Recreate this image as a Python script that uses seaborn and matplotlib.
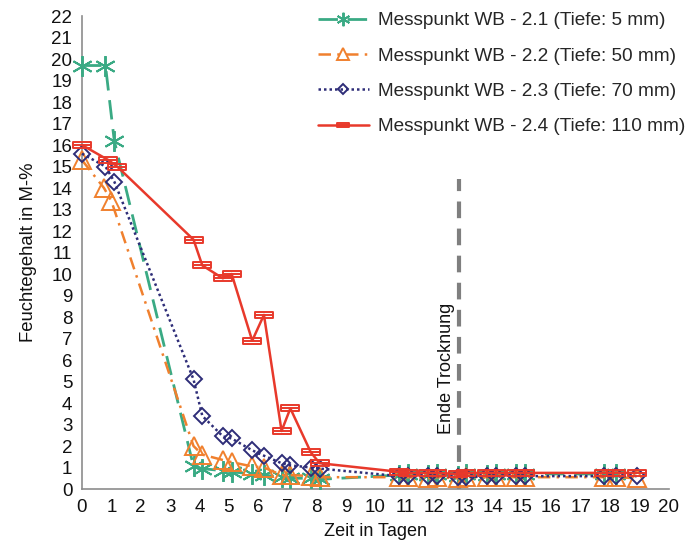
import numpy as np
import pandas as pd
import matplotlib
matplotlib.use("Agg")
import matplotlib.pyplot as plt
from matplotlib.path import Path
import seaborn as sns

sns.set_theme(style="white")
plt.rcParams["font.family"] = ["Liberation Sans", "DejaVu Sans"]

# Messzeitpunkte (Tage) und Feuchtegehalt (M-%) je Messpunkt
t_late = [10.8, 11.1, 11.8, 12.1, 12.8, 13.1, 13.8, 14.1, 14.8, 15.1, 17.8, 18.2, 18.9]
t_mid = [3.8, 4.1, 4.8, 5.1, 5.8, 6.2, 6.8, 7.1, 7.8, 8.1]

t_21 = [0.0, 0.8, 1.1] + t_mid + t_late[:-1]
wb_21 = [19.7, 19.7, 16.2,
         1.05, 0.95, 0.85, 0.8, 0.7, 0.65, 0.55, 0.5, 0.5, 0.45,
         0.65, 0.7, 0.65, 0.7, 0.6, 0.7, 0.65, 0.7, 0.7, 0.7, 0.7, 0.7]

t_22 = [0.0, 0.75, 1.0] + t_mid + t_late
wb_22 = [15.3, 14.0, 13.4,
         2.0, 1.6, 1.35, 1.25, 1.05, 1.0, 0.65, 0.65, 0.6, 0.55,
         0.55, 0.55, 0.5, 0.55, 0.5, 0.55, 0.55, 0.55, 0.55, 0.55, 0.55, 0.55, 0.5]

t_23 = [0.0, 0.8, 1.1] + t_mid + t_late
wb_23 = [15.6, 15.0, 14.3,
         5.1, 3.4, 2.45, 2.35, 1.8, 1.55, 1.2, 1.1, 1.0, 0.95,
         0.6, 0.6, 0.6, 0.6, 0.55, 0.55, 0.6, 0.6, 0.6, 0.6, 0.6, 0.6, 0.6]

t_24 = [0.0, 0.9, 1.2] + t_mid + t_late
wb_24 = [16.0, 15.3, 15.0,
         11.6, 10.4, 9.8, 10.0, 6.9, 8.1, 2.7, 3.75, 1.7, 1.2,
         0.8, 0.75, 0.75, 0.75, 0.7, 0.75, 0.75, 0.75, 0.75, 0.75, 0.75, 0.75, 0.75]

labels = ["Messpunkt WB - 2.1 (Tiefe: 5 mm)",
          "Messpunkt WB - 2.2 (Tiefe: 50 mm)",
          "Messpunkt WB - 2.3 (Tiefe: 70 mm)",
          "Messpunkt WB - 2.4 (Tiefe: 110 mm)"]

ende_trocknung = 12.85

# flat box with a centre bar used for WB - 2.4
box_marker = Path(
    [(-1, -0.3), (1, -0.3), (1, 0.3), (-1, 0.3), (-1, -0.3), (-1, 0), (1, 0)],
    [Path.MOVETO, Path.LINETO, Path.LINETO, Path.LINETO, Path.CLOSEPOLY, Path.MOVETO, Path.LINETO],
)

styles = [
    dict(color="#3aaa84", linestyle=(0, (7, 3.5)), marker=(6, 2, 0), markersize=15, lw=2.0),
    dict(color="#f0802e", linestyle=(0, (5, 2.5, 1, 2.5)), marker="^", markersize=13, lw=1.8),
    dict(color="#2e2d78", linestyle=(0, (1, 1.2)), marker="D", markersize=8.5, lw=1.8),
    dict(color="#e8392b", linestyle="-", marker=box_marker, markersize=12.5, lw=1.8),
]

FS = 13.5

fig = plt.figure(figsize=(6.99, 5.54), dpi=100)
ax = fig.add_axes([0.1173, 0.1173, 0.957 - 0.1173, 0.971 - 0.1173])

series = [(t_21, wb_21), (t_22, wb_22), (t_23, wb_23), (t_24, wb_24)]
for (t, v), lab, st in zip(series, labels, styles):
    df = pd.DataFrame({"Zeit": t, "Feuchte": v})
    sns.lineplot(data=df, x="Zeit", y="Feuchte", ax=ax, estimator=None, sort=False,
                 label=lab, color=st["color"], linestyle=st["linestyle"],
                 marker=st["marker"], markersize=st["markersize"], linewidth=st["lw"],
                 markerfacecolor="none", markeredgecolor=st["color"], markeredgewidth=1.4,
                 clip_on=False, zorder=3)

ax.axvline(ende_trocknung, ymin=0, ymax=14.4 / 22, color="#7f7f7f", lw=3,
           linestyle=(0, (4, 2.5)), zorder=2)
ax.text(ende_trocknung - 0.42, 2.55, "Ende Trocknung", rotation=90, ha="center", va="bottom",
        fontsize=13, color="#111111")

ax.set_xlim(0, 20)
ax.set_ylim(0, 22)
ax.set_xticks(range(0, 21))
ax.set_yticks(range(0, 23))
ax.tick_params(axis="both", direction="inout", length=8, width=1, color="#8c8c8c",
               labelsize=FS, labelcolor="#111111", pad=3)
for side in ["top", "right"]:
    ax.spines[side].set_visible(False)
for side in ["left", "bottom"]:
    ax.spines[side].set_color("#8c8c8c")
    ax.spines[side].set_linewidth(1.2)

ax.set_xlabel("Zeit in Tagen", fontsize=13, color="#111111", labelpad=5)
ax.set_ylabel("Feuchtegehalt in M-%", fontsize=13.3, color="#111111", labelpad=10)

leg = ax.legend(loc="upper right", bbox_to_anchor=(1.04, 1.025), frameon=False,
                fontsize=13.7, handlelength=2.7, handletextpad=0.45, labelspacing=0.95,
                numpoints=1, markerscale=0.65, borderaxespad=0)

fig.savefig("out.png", dpi=100)
